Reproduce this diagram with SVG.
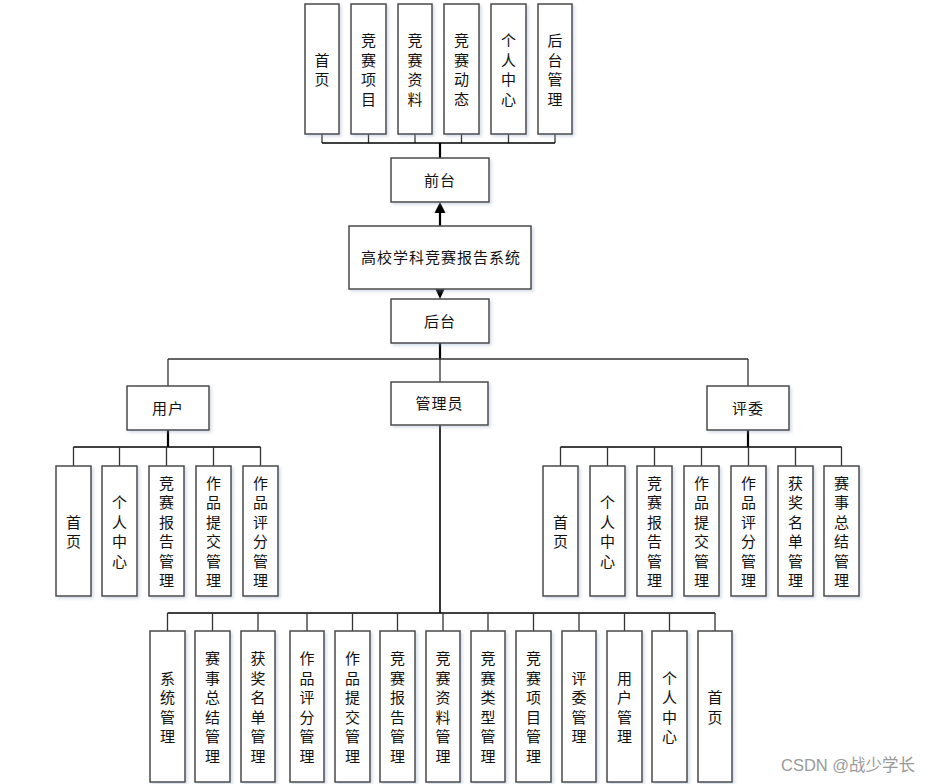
<svg xmlns="http://www.w3.org/2000/svg" width="931" height="784" viewBox="0 0 931 784">
  <style>
    .box { fill: #ffffff; stroke: #4a4a4a; stroke-width: 1.5; filter: url(#sh); }
    .lbl { font-family: "Liberation Sans", "Noto Sans CJK SC", sans-serif; font-size: 15px; fill: #111; text-anchor: middle; dominant-baseline: central; }
    .hl { letter-spacing: 1px; }
    .ln { stroke: #333; stroke-width: 1.3; fill: none; }
    .tk { stroke: #000; stroke-width: 2.2; fill: none; }
    .wm { font-family: "Liberation Sans", "Noto Sans CJK SC", sans-serif; font-size: 16.5px; fill: #9a9a9a; }
  </style>
  <defs>
    <filter id="sh" x="-20%" y="-20%" width="150%" height="150%">
      <feDropShadow dx="2" dy="2" stdDeviation="1.5" flood-color="#8fa3c0" flood-opacity="0.35"/>
    </filter>
  </defs>
  <rect width="931" height="784" fill="#ffffff"/>

  <!-- connectors -->
  <g id="connectors">
    <!-- top row to 前台 -->
    <path class="ln" d="M322 134V143M368.5 134V143M415 134V143M461.5 134V143M508.5 134V143M555 134V143"/>
    <path class="tk" d="M322 143H555" style="stroke-width:1.5"/>
    <path class="tk" d="M440 143V158"/>
    <!-- system to 前台 / 后台 -->
    <path class="tk" d="M440 226V212"/>
    <polygon points="440,202 434.5,213 445.5,213" fill="#000"/>
    <polygon points="440,299 434.5,287 445.5,287" fill="#000"/>
    <!-- 后台 branches -->
    <path class="tk" d="M440 343V359"/>
    <path class="ln" d="M168 359H748M168 359V386M748 359V386M440 359V382"/>
    <!-- 用户 children -->
    <path class="tk" d="M168 430V447"/>
    <path class="tk" d="M73.5 447H260.5" style="stroke-width:1.5"/>
    <path class="ln" d="M73.5 447V466M119.5 447V466M166.5 447V466M213.5 447V466M260.5 447V466"/>
    <!-- 评委 children -->
    <path class="tk" d="M748 430V447"/>
    <path class="tk" d="M560.5 447H841.5" style="stroke-width:1.5"/>
    <path class="ln" d="M560.5 447V466M607.5 447V466M654.5 447V466M701.5 447V466M748.5 447V466M795.5 447V466M841.5 447V466"/>
    <!-- 管理员 children -->
    <path class="tk" d="M440 425V613" style="stroke-width:1.6"/>
    <path class="tk" d="M167.5 613H715" style="stroke-width:1.5"/>
    <path class="ln" d="M167.5 613V631M212.5 613V631M258 613V631M307 613V631M352.5 613V631M397.5 613V631M443 613V631M488 613V631M533.5 613V631M579 613V631M624.5 613V631M669.5 613V631M715 613V631"/>
  </g>

  <!-- top row -->
  <g id="top-home"><rect class="box" x="305" y="4" width="34" height="130"/>
    <text class="lbl"><tspan x="322" y="59.5">首</tspan><tspan x="322" y="79">页</tspan></text></g>
  <g id="top-project"><rect class="box" x="351" y="4" width="35" height="130"/>
    <text class="lbl"><tspan x="368.5" y="40">竞</tspan><tspan x="368.5" y="59.5">赛</tspan><tspan x="368.5" y="79">项</tspan><tspan x="368.5" y="98.5">目</tspan></text></g>
  <g id="top-material"><rect class="box" x="398" y="4" width="34" height="130"/>
    <text class="lbl"><tspan x="415" y="40">竞</tspan><tspan x="415" y="59.5">赛</tspan><tspan x="415" y="79">资</tspan><tspan x="415" y="98.5">料</tspan></text></g>
  <g id="top-news"><rect class="box" x="444" y="4" width="35" height="130"/>
    <text class="lbl"><tspan x="461.5" y="40">竞</tspan><tspan x="461.5" y="59.5">赛</tspan><tspan x="461.5" y="79">动</tspan><tspan x="461.5" y="98.5">态</tspan></text></g>
  <g id="top-profile"><rect class="box" x="491" y="4" width="35" height="130"/>
    <text class="lbl"><tspan x="508.5" y="40">个</tspan><tspan x="508.5" y="59.5">人</tspan><tspan x="508.5" y="79">中</tspan><tspan x="508.5" y="98.5">心</tspan></text></g>
  <g id="top-admin"><rect class="box" x="538" y="4" width="34" height="130"/>
    <text class="lbl"><tspan x="555" y="40">后</tspan><tspan x="555" y="59.5">台</tspan><tspan x="555" y="79">管</tspan><tspan x="555" y="98.5">理</tspan></text></g>

  <!-- main chain -->
  <g id="frontend"><rect class="box" x="391" y="158" width="98" height="44"/>
    <text class="lbl hl" x="440" y="180">前台</text></g>
  <g id="system"><rect class="box" x="349" y="226" width="182" height="63"/>
    <text class="lbl hl" x="441" y="257.5">高校学科竞赛报告系统</text></g>
  <g id="backend"><rect class="box" x="391" y="299" width="98" height="44"/>
    <text class="lbl hl" x="440" y="321">后台</text></g>

  <!-- roles -->
  <g id="role-user"><rect class="box" x="127" y="386" width="82" height="44"/>
    <text class="lbl hl" x="168" y="408">用户</text></g>
  <g id="role-admin"><rect class="box" x="391" y="382" width="97" height="43"/>
    <text class="lbl hl" x="439.5" y="403.5">管理员</text></g>
  <g id="role-judge"><rect class="box" x="707" y="386" width="82" height="44"/>
    <text class="lbl hl" x="748" y="408">评委</text></g>

  <!-- user functions -->
  <g id="user-home"><rect class="box" x="56" y="466" width="35" height="130"/>
    <text class="lbl"><tspan x="73.5" y="521.5">首</tspan><tspan x="73.5" y="541">页</tspan></text></g>
  <g id="user-profile"><rect class="box" x="102" y="466" width="35" height="130"/>
    <text class="lbl"><tspan x="119.5" y="502">个</tspan><tspan x="119.5" y="521.5">人</tspan><tspan x="119.5" y="541">中</tspan><tspan x="119.5" y="560.5">心</tspan></text></g>
  <g id="user-report"><rect class="box" x="149" y="466" width="35" height="130"/>
    <text class="lbl"><tspan x="166.5" y="482.5">竞</tspan><tspan x="166.5" y="502">赛</tspan><tspan x="166.5" y="521.5">报</tspan><tspan x="166.5" y="541">告</tspan><tspan x="166.5" y="560.5">管</tspan><tspan x="166.5" y="580">理</tspan></text></g>
  <g id="user-submit"><rect class="box" x="196" y="466" width="35" height="130"/>
    <text class="lbl"><tspan x="213.5" y="482.5">作</tspan><tspan x="213.5" y="502">品</tspan><tspan x="213.5" y="521.5">提</tspan><tspan x="213.5" y="541">交</tspan><tspan x="213.5" y="560.5">管</tspan><tspan x="213.5" y="580">理</tspan></text></g>
  <g id="user-score"><rect class="box" x="243" y="466" width="35" height="130"/>
    <text class="lbl"><tspan x="260.5" y="482.5">作</tspan><tspan x="260.5" y="502">品</tspan><tspan x="260.5" y="521.5">评</tspan><tspan x="260.5" y="541">分</tspan><tspan x="260.5" y="560.5">管</tspan><tspan x="260.5" y="580">理</tspan></text></g>

  <!-- judge functions -->
  <g id="judge-home"><rect class="box" x="543" y="466" width="35" height="130"/>
    <text class="lbl"><tspan x="560.5" y="521.5">首</tspan><tspan x="560.5" y="541">页</tspan></text></g>
  <g id="judge-profile"><rect class="box" x="590" y="466" width="35" height="130"/>
    <text class="lbl"><tspan x="607.5" y="502">个</tspan><tspan x="607.5" y="521.5">人</tspan><tspan x="607.5" y="541">中</tspan><tspan x="607.5" y="560.5">心</tspan></text></g>
  <g id="judge-report"><rect class="box" x="637" y="466" width="35" height="130"/>
    <text class="lbl"><tspan x="654.5" y="482.5">竞</tspan><tspan x="654.5" y="502">赛</tspan><tspan x="654.5" y="521.5">报</tspan><tspan x="654.5" y="541">告</tspan><tspan x="654.5" y="560.5">管</tspan><tspan x="654.5" y="580">理</tspan></text></g>
  <g id="judge-submit"><rect class="box" x="684" y="466" width="35" height="130"/>
    <text class="lbl"><tspan x="701.5" y="482.5">作</tspan><tspan x="701.5" y="502">品</tspan><tspan x="701.5" y="521.5">提</tspan><tspan x="701.5" y="541">交</tspan><tspan x="701.5" y="560.5">管</tspan><tspan x="701.5" y="580">理</tspan></text></g>
  <g id="judge-score"><rect class="box" x="731" y="466" width="35" height="130"/>
    <text class="lbl"><tspan x="748.5" y="482.5">作</tspan><tspan x="748.5" y="502">品</tspan><tspan x="748.5" y="521.5">评</tspan><tspan x="748.5" y="541">分</tspan><tspan x="748.5" y="560.5">管</tspan><tspan x="748.5" y="580">理</tspan></text></g>
  <g id="judge-awards"><rect class="box" x="778" y="466" width="35" height="130"/>
    <text class="lbl"><tspan x="795.5" y="482.5">获</tspan><tspan x="795.5" y="502">奖</tspan><tspan x="795.5" y="521.5">名</tspan><tspan x="795.5" y="541">单</tspan><tspan x="795.5" y="560.5">管</tspan><tspan x="795.5" y="580">理</tspan></text></g>
  <g id="judge-summary"><rect class="box" x="824" y="466" width="35" height="130"/>
    <text class="lbl"><tspan x="841.5" y="482.5">赛</tspan><tspan x="841.5" y="502">事</tspan><tspan x="841.5" y="521.5">总</tspan><tspan x="841.5" y="541">结</tspan><tspan x="841.5" y="560.5">管</tspan><tspan x="841.5" y="580">理</tspan></text></g>

  <!-- admin functions -->
  <g id="admin-system"><rect class="box" x="150" y="631" width="35" height="151"/>
    <text class="lbl"><tspan x="167.5" y="677.5">系</tspan><tspan x="167.5" y="697">统</tspan><tspan x="167.5" y="716.5">管</tspan><tspan x="167.5" y="736">理</tspan></text></g>
  <g id="admin-summary"><rect class="box" x="195" y="631" width="35" height="151"/>
    <text class="lbl"><tspan x="212.5" y="658">赛</tspan><tspan x="212.5" y="677.5">事</tspan><tspan x="212.5" y="697">总</tspan><tspan x="212.5" y="716.5">结</tspan><tspan x="212.5" y="736">管</tspan><tspan x="212.5" y="755.5">理</tspan></text></g>
  <g id="admin-awards"><rect class="box" x="241" y="631" width="34" height="151"/>
    <text class="lbl"><tspan x="258" y="658">获</tspan><tspan x="258" y="677.5">奖</tspan><tspan x="258" y="697">名</tspan><tspan x="258" y="716.5">单</tspan><tspan x="258" y="736">管</tspan><tspan x="258" y="755.5">理</tspan></text></g>
  <g id="admin-score"><rect class="box" x="290" y="631" width="34" height="151"/>
    <text class="lbl"><tspan x="307" y="658">作</tspan><tspan x="307" y="677.5">品</tspan><tspan x="307" y="697">评</tspan><tspan x="307" y="716.5">分</tspan><tspan x="307" y="736">管</tspan><tspan x="307" y="755.5">理</tspan></text></g>
  <g id="admin-submit"><rect class="box" x="335" y="631" width="35" height="151"/>
    <text class="lbl"><tspan x="352.5" y="658">作</tspan><tspan x="352.5" y="677.5">品</tspan><tspan x="352.5" y="697">提</tspan><tspan x="352.5" y="716.5">交</tspan><tspan x="352.5" y="736">管</tspan><tspan x="352.5" y="755.5">理</tspan></text></g>
  <g id="admin-report"><rect class="box" x="380" y="631" width="35" height="151"/>
    <text class="lbl"><tspan x="397.5" y="658">竞</tspan><tspan x="397.5" y="677.5">赛</tspan><tspan x="397.5" y="697">报</tspan><tspan x="397.5" y="716.5">告</tspan><tspan x="397.5" y="736">管</tspan><tspan x="397.5" y="755.5">理</tspan></text></g>
  <g id="admin-material"><rect class="box" x="426" y="631" width="34" height="151"/>
    <text class="lbl"><tspan x="443" y="658">竞</tspan><tspan x="443" y="677.5">赛</tspan><tspan x="443" y="697">资</tspan><tspan x="443" y="716.5">料</tspan><tspan x="443" y="736">管</tspan><tspan x="443" y="755.5">理</tspan></text></g>
  <g id="admin-type"><rect class="box" x="471" y="631" width="34" height="151"/>
    <text class="lbl"><tspan x="488" y="658">竞</tspan><tspan x="488" y="677.5">赛</tspan><tspan x="488" y="697">类</tspan><tspan x="488" y="716.5">型</tspan><tspan x="488" y="736">管</tspan><tspan x="488" y="755.5">理</tspan></text></g>
  <g id="admin-project"><rect class="box" x="516" y="631" width="35" height="151"/>
    <text class="lbl"><tspan x="533.5" y="658">竞</tspan><tspan x="533.5" y="677.5">赛</tspan><tspan x="533.5" y="697">项</tspan><tspan x="533.5" y="716.5">目</tspan><tspan x="533.5" y="736">管</tspan><tspan x="533.5" y="755.5">理</tspan></text></g>
  <g id="admin-judges"><rect class="box" x="562" y="631" width="34" height="151"/>
    <text class="lbl"><tspan x="579" y="677.5">评</tspan><tspan x="579" y="697">委</tspan><tspan x="579" y="716.5">管</tspan><tspan x="579" y="736">理</tspan></text></g>
  <g id="admin-users"><rect class="box" x="607" y="631" width="35" height="151"/>
    <text class="lbl"><tspan x="624.5" y="677.5">用</tspan><tspan x="624.5" y="697">户</tspan><tspan x="624.5" y="716.5">管</tspan><tspan x="624.5" y="736">理</tspan></text></g>
  <g id="admin-profile"><rect class="box" x="652" y="631" width="35" height="151"/>
    <text class="lbl"><tspan x="669.5" y="677.5">个</tspan><tspan x="669.5" y="697">人</tspan><tspan x="669.5" y="716.5">中</tspan><tspan x="669.5" y="736">心</tspan></text></g>
  <g id="admin-home"><rect class="box" x="698" y="631" width="34" height="151"/>
    <text class="lbl"><tspan x="715" y="697">首</tspan><tspan x="715" y="716.5">页</tspan></text></g>

  <text class="wm" x="781" y="771">CSDN @战少学长</text>
</svg>
